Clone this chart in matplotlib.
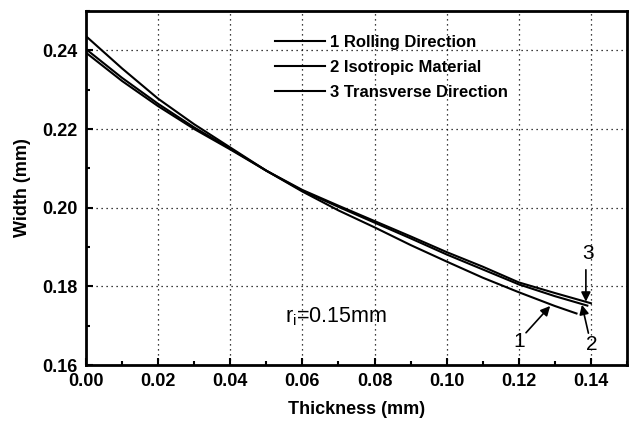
import matplotlib
matplotlib.use("Agg")
import matplotlib.pyplot as plt
from matplotlib.ticker import MultipleLocator
from matplotlib.lines import Line2D

plt.rcParams['font.family'] = ['Liberation Sans', 'DejaVu Sans']
plt.rcParams['mathtext.fontset'] = 'custom'
plt.rcParams['mathtext.rm'] = 'Liberation Sans'
plt.rcParams['mathtext.it'] = 'Liberation Sans'

# Data
x1 = [0.00, 0.01, 0.02, 0.03, 0.04, 0.05, 0.06, 0.07, 0.08, 0.09, 0.10, 0.11, 0.12, 0.13, 0.136]
y1 = [0.2436, 0.2354, 0.2277, 0.2212, 0.2153, 0.2094, 0.2041, 0.1993, 0.1950, 0.1905, 0.1863, 0.1822, 0.1785, 0.1750, 0.1731]
x2 = [0.00, 0.01, 0.02, 0.03, 0.04, 0.05, 0.06, 0.07, 0.08, 0.09, 0.10, 0.11, 0.12, 0.13, 0.139]
y2 = [0.2403, 0.2330, 0.2264, 0.2204, 0.2150, 0.2094, 0.2043, 0.2002, 0.1962, 0.1922, 0.1881, 0.1843, 0.1805, 0.1775, 0.1751]
x3 = [0.00, 0.01, 0.02, 0.03, 0.04, 0.05, 0.06, 0.07, 0.08, 0.09, 0.10, 0.11, 0.12, 0.13, 0.14]
y3 = [0.2394, 0.2322, 0.2258, 0.2200, 0.2148, 0.2094, 0.2045, 0.2005, 0.1966, 0.1927, 0.1887, 0.1850, 0.1810, 0.1783, 0.1757]
labels = ['1 Rolling Direction', '2 Isotropic Material', '3 Transverse Direction']

fig = plt.figure(figsize=(6.32, 4.22), dpi=100)
ax = fig.add_axes([86/632, 57/422, 541/632, 354/422])

for xs, ys in [(x1, y1), (x2, y2), (x3, y3)]:
    ax.plot(xs, ys, color='black', lw=1.5)

ax.set_xlim(0, 0.15)
ax.set_ylim(0.16, 0.25)
ax.xaxis.set_minor_locator(MultipleLocator(0.01))
ax.yaxis.set_minor_locator(MultipleLocator(0.01))
ax.set_xticks([0.00, 0.02, 0.04, 0.06, 0.08, 0.10, 0.12, 0.14])
ax.set_xticklabels(['0.00', '0.02', '0.04', '0.06', '0.08', '0.10', '0.12', '0.14'])
ax.set_yticks([0.16, 0.18, 0.20, 0.22, 0.24])
ax.set_yticklabels(['0.16', '0.18', '0.20', '0.22', '0.24'])
ax.tick_params(which='both', direction='in', top=False, right=False, width=1.5)
ax.tick_params(which='major', length=5, labelsize=13)
ax.tick_params(axis='x', which='major', pad=5.5)
ax.tick_params(axis='y', which='major', pad=6)
ax.tick_params(which='minor', length=3)
for lab in ax.get_xticklabels() + ax.get_yticklabels():
    lab.set_fontweight('bold')
for s in ax.spines.values():
    s.set_linewidth(2)

ax.grid(True, which='major', linestyle=(0, (1, 3)), color='black', lw=0.9)

ax.set_xlabel('Thickness (mm)', fontsize=13, fontweight='bold', labelpad=8)
ax.set_ylabel('Width (mm)', fontsize=13, fontweight='bold', labelpad=8)

handles = [Line2D([0], [0], color='black', lw=1.5) for _ in labels]
leg = ax.legend(handles, labels, loc='upper left', bbox_to_anchor=(0.322, 0.974),
                frameon=False, handlelength=3.0, handletextpad=0.3,
                labelspacing=0.58, borderpad=0.4, prop={'weight': 'bold', 'size': 12})

ax.text(0.0552, 0.1723, r'r$_\mathregular{i}$=0.15mm', fontsize=15.5, ha='left', va='center')

arrow = dict(arrowstyle='-|>', color='black', lw=1.2, mutation_scale=14, shrinkA=0, shrinkB=0)
ax.text(0.1392, 0.1883, '3', fontsize=15, ha='center', va='center')
ax.annotate('', xy=(0.1386, 0.1761), xytext=(0.1386, 0.1842), arrowprops=arrow)
ax.text(0.1201, 0.1659, '1', fontsize=15, ha='center', va='center')
ax.annotate('', xy=(0.1287, 0.1750), xytext=(0.1220, 0.1682), arrowprops=arrow)
ax.text(0.1403, 0.1651, '2', fontsize=15, ha='center', va='center')
ax.annotate('', xy=(0.1375, 0.1753), xytext=(0.1393, 0.1681), arrowprops=arrow)

fig.savefig('out.png', dpi=100)
